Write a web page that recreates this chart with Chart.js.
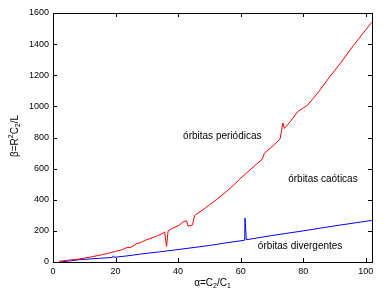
<!DOCTYPE html>
<html><head><meta charset="utf-8">
<script src="https://cdn.jsdelivr.net/npm/chart.js@4"></script>
<style>html,body{margin:0;padding:0;background:#fff}#wrap{width:383px;height:296px}</style>
</head><body><div id="wrap"><canvas id="c" width="383" height="296"></canvas></div>
<script>
const xTicks = [0, 20, 40, 60, 80, 100];
const yTicks = [0, 200, 400, 600, 800, 1000, 1200, 1400, 1600];
const redX = [2, 5, 8, 10, 12, 14, 16, 18, 20, 22, 23.5, 25, 26.7, 28, 29.9, 31, 33, 35.2, 35.7, 36.3, 36.8, 38, 40, 41.6, 42.7, 43.2, 44.6, 45.3, 48, 50.1, 52.2, 55, 57, 60, 63, 65, 66.9, 67.6, 70, 72.6, 73.5, 74, 76, 78.2, 79.8, 81.4, 85, 88.4, 92, 96, 101.9];
const redY = [4, 12, 18, 25, 32, 40, 48, 58, 68, 78, 92, 95, 117, 125, 143, 150, 165, 186, 193, 100, 200, 215, 232, 258, 265, 230, 238, 300, 336, 368, 400, 445, 480, 538, 592, 628, 660, 699, 740, 790, 893, 858, 905, 965, 987, 1008, 1095, 1188, 1280, 1390, 1540];
const blueX = [2, 5, 8.6, 12, 15, 19, 19.3, 19.6, 24, 28, 34, 40, 50, 55, 61.3, 61.4, 61.8, 70, 80, 90, 101.9];
const blueY = [0, 6, 15, 20, 24, 29, 40, 30, 40, 51, 65, 80, 106, 122, 140, 282, 143, 170, 200, 232, 267];
const labels = [
  {text: 'órbitas periódicas', x: 41.6, y: 810},
  {text: 'órbitas caóticas', x: 75.2, y: 532},
  {text: 'órbitas divergentes', x: 65.5, y: 104}
];
const FONT = "'Liberation Sans', Arial, sans-serif";

function pts(xs, ys){ return xs.map((x,i)=>({x:x, y:ys[i]})); }

const framePlugin = {
  id: 'frame',
  afterDraw(chart){
    const ctx = chart.ctx, a = chart.chartArea;
    const xs = chart.scales.x, ys = chart.scales.y;
    ctx.save();
    ctx.strokeStyle = '#000'; ctx.lineWidth = 1;
    ctx.strokeRect(Math.round(a.left)+0.5, Math.round(a.top)+0.5, Math.round(a.right-a.left), Math.round(a.bottom-a.top));
    const L = 4;
    ctx.beginPath();
    xTicks.forEach(v=>{
      const p = Math.round(xs.getPixelForValue(v))+0.5;
      ctx.moveTo(p, a.bottom); ctx.lineTo(p, a.bottom-L);
      ctx.moveTo(p, a.top); ctx.lineTo(p, a.top+L);
    });
    yTicks.forEach(v=>{
      const p = Math.round(ys.getPixelForValue(v))+0.5;
      ctx.moveTo(a.left, p); ctx.lineTo(a.left+L, p);
      ctx.moveTo(a.right, p); ctx.lineTo(a.right-L, p);
    });
    ctx.stroke();
    ctx.fillStyle = '#000';
    ctx.font = '10px ' + FONT;
    ctx.textBaseline = 'middle'; ctx.textAlign = 'left';
    labels.forEach(l=>{
      ctx.fillText(l.text, xs.getPixelForValue(l.x), ys.getPixelForValue(l.y));
    });
    function drawRich(parts, x, y){
      let w = 0;
      parts.forEach(p=>{ ctx.font = (p[1]==='n'?'10px ':'7px ')+FONT; w += ctx.measureText(p[0]).width; });
      let cx = x - w/2;
      parts.forEach(p=>{
        ctx.font = (p[1]==='n'?'10px ':'7px ')+FONT;
        const dy = p[1]==='sub'?3:(p[1]==='sup'?-4:0);
        ctx.fillText(p[0], cx, y+dy);
        cx += ctx.measureText(p[0]).width;
      });
    }
    ctx.textAlign = 'left'; ctx.textBaseline = 'middle';
    drawRich([['α=C','n'],['2','sub'],['/C','n'],['1','sub']], (a.left+a.right)/2, 283);
    ctx.save();
    ctx.translate(15, 136);
    ctx.rotate(-Math.PI/2);
    drawRich([['β=R','n'],['2','sup'],['C','n'],['2','sub'],['/L','n']], 0, 0);
    ctx.restore();
    ctx.restore();
  }
};

new Chart(document.getElementById('c'), {
  type: 'scatter',
  data: {
    datasets: [
      {data: pts(redX, redY), showLine: true, borderColor: '#ff0000', borderWidth: 1, pointRadius: 0, tension: 0},
      {data: pts(blueX, blueY), showLine: true, borderColor: '#0000ff', borderWidth: 1, pointRadius: 0, tension: 0}
    ]
  },
  options: {
    responsive: false, animation: false, devicePixelRatio: 1,
    layout: {padding: {left: 0, right: 11, top: 13, bottom: 0}},
    plugins: {legend: {display: false}, tooltip: {enabled: false}},
    scales: {
      x: {
        type: 'linear', min: 0, max: 102,
        grid: {display: false, drawTicks: false}, border: {display: false},
        afterBuildTicks: s => { s.ticks = xTicks.map(v=>({value: v})); },
        ticks: {color: '#000', font: {family: FONT, size: 9}, padding: 4, maxRotation: 0, autoSkip: false, callback: v => String(v)},
        afterFit: s => { s.height = 34; }
      },
      y: {
        type: 'linear', min: 0, max: 1600,
        grid: {display: false, drawTicks: false}, border: {display: false},
        afterBuildTicks: s => { s.ticks = yTicks.map(v=>({value: v})); },
        ticks: {color: '#000', font: {family: FONT, size: 9}, padding: 4, autoSkip: false, callback: v => String(v)},
        afterFit: s => { s.width = 53; }
      }
    }
  },
  plugins: [framePlugin]
});
</script>
</body></html>
